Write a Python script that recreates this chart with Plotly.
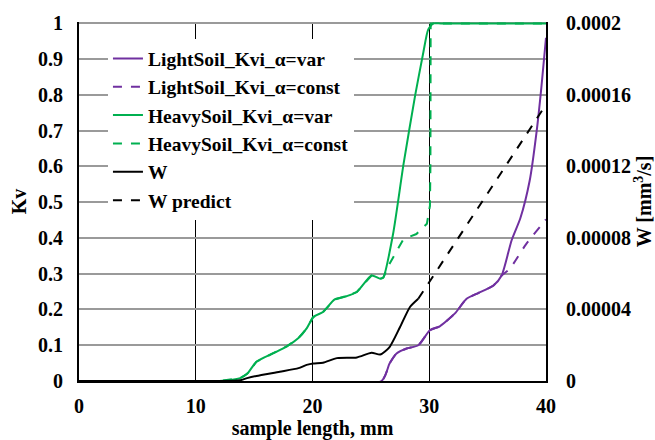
import plotly.graph_objects as go

# Light soil, alpha = var
ls_var_x = [0, 25.9, 26.6, 27.2, 28.06, 29.06, 30.06, 30.9, 32.2, 33.2, 34.2, 35.5, 36.2, 37.05, 37.8, 38.6, 39.2, 39.6, 40]
ls_var_y = [0, 0, 0.049, 0.077, 0.091, 0.1, 0.142, 0.153, 0.189, 0.23, 0.246, 0.267, 0.295, 0.393, 0.455, 0.56, 0.699, 0.82, 0.96]
# Light soil, alpha = const
ls_const_x = [0, 25.9, 26.6, 27.2, 28.06, 29.06, 30.06, 30.9, 32.2, 33.2, 34.2, 35.5, 36.2, 36.9, 38.3, 39.9, 40]
ls_const_y = [0, 0, 0.049, 0.077, 0.091, 0.1, 0.142, 0.153, 0.189, 0.23, 0.246, 0.267, 0.295, 0.314, 0.383, 0.448, 0.452]
# Heavy soil, alpha = var
hs_var_x = [0, 12, 13.8, 14.4, 15.2, 16.6, 17.8, 18.8, 19.5, 20.07, 20.9, 21.9, 22.9, 23.8, 25.06, 25.8, 26.06, 26.9, 27.8, 28.8, 29.5, 29.9, 30.35, 31, 40]
hs_var_y = [0, 0, 0.008, 0.02, 0.054, 0.077, 0.097, 0.12, 0.147, 0.179, 0.193, 0.228, 0.237, 0.249, 0.295, 0.286, 0.289, 0.411, 0.607, 0.80, 0.92, 0.982, 1.0, 1.0, 1.0]
# Heavy soil, alpha = const
hs_const_x = [0, 12, 13.8, 14.4, 15.2, 16.6, 17.8, 18.8, 19.5, 20.07, 20.9, 21.9, 22.9, 23.8, 25.06, 25.8, 26.06, 26.6, 27.8, 28.9, 29.8, 30.06, 30.1, 30.12, 40]
hs_const_y = [0, 0, 0.008, 0.02, 0.054, 0.077, 0.097, 0.12, 0.147, 0.179, 0.193, 0.228, 0.237, 0.249, 0.295, 0.286, 0.289, 0.328, 0.397, 0.411, 0.44, 0.49, 0.6, 1.0, 1.0]
# W measured [mm^3/s]
w_x = [0, 12, 13.8, 14.4, 15.2, 17.2, 18.8, 19.5, 20.07, 20.9, 22.1, 23.8, 25.06, 25.8, 26.6, 27.5, 28.35, 29.06]
w_y = [0, 0, 4e-7, 1.6e-6, 2.8e-6, 5.2e-6, 7.2e-6, 9.0e-6, 9.8e-6, 1.02e-5, 1.28e-5, 1.32e-5, 1.58e-5, 1.48e-5, 1.9e-5, 3.02e-5, 4.14e-5, 4.6e-5]
# W predict
wp_x = [29.06, 40]
wp_y = [4.6e-5, 1.546e-4]

x_ticks = [0, 10, 20, 30, 40]
y_ticks = [0, 0.1, 0.2, 0.3, 0.4, 0.5, 0.6, 0.7, 0.8, 0.9, 1]
y_ticklabels = ["0", "0.1", "0.2", "0.3", "0.4", "0.5", "0.6", "0.7", "0.8", "0.9", "1"]
w_ticks = [0, 0.00004, 0.00008, 0.00012, 0.00016, 0.0002]
w_ticklabels = ["0", "0.00004", "0.00008", "0.00012", "0.00016", "0.0002"]

PURPLE = "#7030A0"
GREEN = "#00B050"
FONT = dict(family="Liberation Serif", size=20, color="black", weight="bold")
LFONT = dict(family="Liberation Serif", size=19.5, color="black", weight="bold")

fig = go.Figure()
sp = dict(shape="spline", smoothing=0.6)
fig.add_trace(go.Scatter(x=ls_var_x, y=ls_var_y, mode="lines", name="LightSoil_Kvi_α=var",
                         line=dict(color=PURPLE, width=2, **sp)))
fig.add_trace(go.Scatter(x=ls_const_x, y=ls_const_y, mode="lines", name="LightSoil_Kvi_α=const",
                         line=dict(color=PURPLE, width=2, dash="dash", **sp)))
fig.add_trace(go.Scatter(x=hs_var_x, y=hs_var_y, mode="lines", name="HeavySoil_Kvi_α=var",
                         line=dict(color=GREEN, width=2, **sp)))
fig.add_trace(go.Scatter(x=hs_const_x, y=hs_const_y, mode="lines", name="HeavySoil_Kvi_α=const",
                         line=dict(color=GREEN, width=2, dash="dash", shape="linear")))
fig.add_trace(go.Scatter(x=w_x, y=w_y, mode="lines", name="W", yaxis="y2",
                         line=dict(color="black", width=2, **sp)))
fig.add_trace(go.Scatter(x=wp_x, y=wp_y, mode="lines", name="W predict", yaxis="y2",
                         line=dict(color="black", width=2, dash="dash")))

fig.update_layout(
    width=655, height=440,
    margin=dict(l=79, r=109, t=22, b=59),
    paper_bgcolor="white", plot_bgcolor="white",
    font=FONT,
    xaxis=dict(range=[0, 40], tickvals=x_ticks, ticktext=[str(v) for v in x_ticks],
               showgrid=True, gridcolor="black", gridwidth=1, automargin=False,
               showline=True, linecolor="black", linewidth=2, zeroline=False,
               ticks="", ticklabelstandoff=6,
               title=dict(text="sample length, mm", standoff=14, font=FONT)),
    yaxis=dict(range=[0, 1.004], tickvals=y_ticks, ticktext=y_ticklabels,
               showgrid=True, gridcolor="#9a9a9a", gridwidth=2, automargin=False,
               showline=True, linecolor="black", linewidth=2, zeroline=False,
               ticks="", ticklabelstandoff=10,
               title=dict(text="Kv", standoff=6, font=FONT)),
    yaxis2=dict(range=[0, 0.0002008], overlaying="y", side="right",
                tickvals=w_ticks, ticktext=w_ticklabels, automargin=False,
                showgrid=False, showline=True, linecolor="black", linewidth=2, zeroline=False,
                ticks="", ticklabelstandoff=14,
                title=dict(text="W [mm<sup>3</sup>/s]", standoff=8, font=FONT)),
    legend=dict(x=0.062, y=0.952, xanchor="left", yanchor="top", bgcolor="white",
                borderwidth=0, font=LFONT, tracegroupgap=0),
    showlegend=True,
)

fig.write_html("out.html")
